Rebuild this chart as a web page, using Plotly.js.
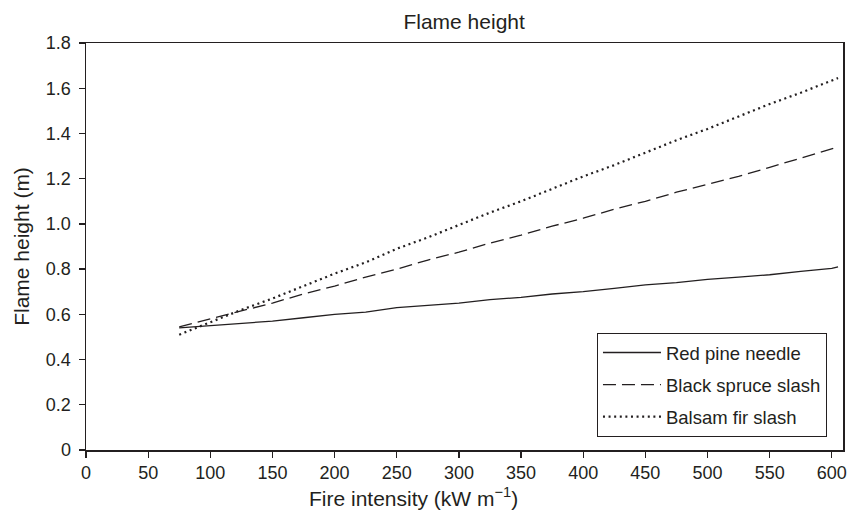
<!DOCTYPE html>
<html>
<head>
<meta charset="utf-8">
<script src="https://cdn.plot.ly/plotly-3.0.1.min.js"></script>
<style>html,body{margin:0;padding:0;background:#fff;}#chart{width:847px;height:513px;}</style>
</head>
<body>
<div id="chart"></div>
<script>
const intensity = [75,100,125,150,175,200,225,250,275,300,325,350,375,400,425,450,475,500,525,550,575,600,605];
const redPine = [0.54,0.55,0.56,0.57,0.585,0.60,0.61,0.63,0.64,0.65,0.665,0.675,0.69,0.70,0.715,0.73,0.74,0.755,0.765,0.775,0.79,0.803,0.81];
const blackSpruce = [0.545,0.58,0.615,0.65,0.69,0.725,0.765,0.80,0.84,0.875,0.915,0.95,0.99,1.025,1.065,1.10,1.14,1.175,1.21,1.25,1.29,1.33,1.34];
const balsamFir = [0.51,0.565,0.62,0.67,0.725,0.78,0.83,0.89,0.94,0.995,1.05,1.10,1.155,1.21,1.26,1.315,1.37,1.42,1.475,1.53,1.58,1.635,1.645];
const seriesNames = ["Red pine needle","Black spruce slash","Balsam fir slash"];
const xTicks = [0,50,100,150,200,250,300,350,400,450,500,550,600];
const yTicks = [0,0.2,0.4,0.6,0.8,1.0,1.2,1.4,1.6,1.8];
const yTickText = ["0","0.2","0.4","0.6","0.8","1.0","1.2","1.4","1.6","1.8"];

const ink = "#231f20";
const font = "Liberation Sans, Arial, Helvetica, sans-serif";

const traces = [
  {x: intensity, y: redPine, name: seriesNames[0], legendgroup: "a", mode: "lines",
   line: {color: ink, width: 1.3}},
  {x: intensity, y: blackSpruce, name: seriesNames[1], legendgroup: "b", mode: "lines",
   line: {color: ink, width: 1.3, dash: "13px,6px"}},
  {x: intensity, y: balsamFir, name: seriesNames[2], legendgroup: "c", mode: "lines",
   line: {color: ink, width: 2.2, dash: "2px,3.6px"}}
];

const layout = {
  width: 847, height: 513,
  margin: {l: 86, r: 4, t: 43, b: 63, pad: 0},
  paper_bgcolor: "#fff", plot_bgcolor: "#fff",
  font: {family: font, color: ink, size: 18},
  title: {text: "Flame height", x: 0.548, xanchor: "center", y: 0.957, yanchor: "middle",
          font: {size: 21, color: ink, family: font}},
  xaxis: {range: [0, 609], tickvals: xTicks, ticktext: xTicks.map(String),
          showgrid: false, zeroline: false, showline: true, linecolor: ink, linewidth: 1.5,
          mirror: true, ticks: "outside", ticklen: 6, tickcolor: ink, tickwidth: 1.3,
          tickfont: {size: 18, color: ink}, fixedrange: true},
  yaxis: {range: [0, 1.8], tickvals: yTicks, ticktext: yTickText,
          showgrid: false, zeroline: false, showline: true, linecolor: ink, linewidth: 1.5,
          mirror: true, ticks: "outside", ticklen: 6, tickcolor: ink, tickwidth: 1.3,
          tickfont: {size: 18, color: ink}, ticklabelstandoff: 4,
          title: {text: "Flame height (m)", font: {size: 21, color: ink}, standoff: 10},
          fixedrange: true},
  showlegend: true,
  legend: {x: 0.675, y: 0.2875, xanchor: "left", yanchor: "top",
           bgcolor: "#fff", bordercolor: ink, borderwidth: 1,
           font: {size: 18.5, color: ink, family: font},
           traceorder: "grouped", tracegroupgap: 5, itemwidth: 58},
  annotations: [
    {text: "Fire intensity (kW m<sup>\u22121</sup>)", xref: "paper", yref: "paper",
     x: 0.432, y: 0, xanchor: "center", yanchor: "top", yshift: -32, showarrow: false,
     font: {size: 21, color: ink, family: font}}
  ]
};

Plotly.newPlot("chart", traces, layout, {displayModeBar: false, staticPlot: true});
</script>
</body>
</html>
